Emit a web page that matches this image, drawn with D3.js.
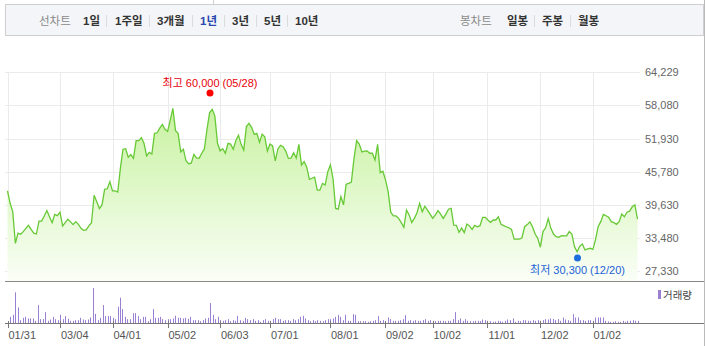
<!DOCTYPE html>
<html>
<head>
<meta charset="utf-8">
<script src="https://cdn.jsdelivr.net/npm/d3@7"></script>
<style>
  body { margin: 0; background: #fff; }
  svg text { font-family: "Liberation Sans", Arial, "Noto Sans CJK KR", sans-serif; }
</style>
</head>
<body>
<div id="chart"></div>
<script>
// closing prices (line)
var prices = [
  42200, 39900, 38350, 32450, 34350, 34150, 34650, 35250, 35800, 35050,
  34350, 34200, 36600, 36600, 37550, 38550, 37400, 36300, 37850, 37600,
  38250, 35700, 36300, 36950, 36450, 35950, 36500, 36000, 35250, 34900,
  34950, 35700, 36300, 41400, 40200, 38900, 39600, 42500, 42600, 43900,
  42200, 42200, 42000, 46400, 49950, 50050, 48450, 48950, 48250, 51550,
  51550, 52100, 51050, 48700, 49350, 49050, 52900, 53000, 53850, 54550,
  53650, 53250,
  55350, 57550, 53400, 52900, 49450, 49950, 47800, 47250, 47350, 49000,
  48350, 48250, 49200, 50000, 53650, 56750, 57350, 56100, 51050, 49650,
  50050, 49200, 51050, 50900, 49950, 51550, 52550, 50850, 49800, 54150,
  54750, 54000, 52700, 52900, 51250, 52750, 52250, 49600, 50900, 50550,
  47800, 50000, 50650, 50400, 49600, 48250, 48300, 49300, 48300, 50850,
  47000, 47650, 46600, 44350, 44550, 44750, 42350, 42350,
  43600, 43300, 45750, 47050, 44550, 38950, 38800, 41150, 39600, 43450,
  43600, 43850, 48250, 51550, 50900, 49450, 49600, 49650, 49200, 49200,
  47950, 50850, 45600, 45850, 44250, 42050, 38250, 37550, 37550, 37100,
  36300, 35450, 38650, 37750, 36350, 37100, 38150, 39900, 38350, 39350,
  38650, 37900, 37100, 37750, 38550, 37900, 37100, 37900, 38800, 38950,
  35850, 35800, 34500, 35300, 34450, 36050, 35700, 35050, 35800, 35550,
  35750, 37300, 37300, 36800,
  36350, 36800, 36800, 37400, 36000, 35750, 35550, 35350, 35050, 33250,
  33250, 33250, 33500, 35550, 35950, 36450, 35550, 34200, 33400, 31750,
  34650, 35350, 37050, 35250, 34200, 33700, 33600, 33900, 33850, 33850,
  34650, 34200, 31850, 30900, 31950, 32350, 31250, 31450, 31550, 31350,
  33100, 35550, 36500, 37850, 37600, 37300, 36500, 36300, 36000, 36500,
  37900, 37400, 38250, 38450, 39250, 39600, 36950
];

// daily volume, thousand shares
var volumes = [
  70, 200, 260, 930, 480, 100, 170, 200, 150, 150, 150, 80, 550, 130, 130, 340, 80, 120, 200, 130,
  100, 260, 130, 220, 140, 80, 80, 100, 100, 170, 120, 100, 120, 180, 1060, 290, 100, 170, 550, 220,
  220, 220, 170, 130, 500, 770, 430, 200, 130, 130, 310, 310, 220, 130, 200, 200, 70, 130, 430, 170,
  170, 200, 130, 100, 130, 130, 150, 230, 170, 170, 150, 170, 140, 200, 100, 100, 100, 70, 100, 150,
  170, 610, 260, 130, 200, 100, 80, 100, 130, 70, 100, 80, 230, 100, 80, 170, 130, 100, 130, 80,
  100, 50, 100, 130, 80, 80, 130, 170, 130, 130, 80, 100, 100, 80, 130, 100, 130, 200, 230, 150,
  100, 70, 100, 70, 100, 80, 70, 100, 130, 130, 150, 200, 260, 200, 100, 260, 80, 80,
  280, 260, 70, 70, 70, 70, 50, 70, 80, 100, 220, 80, 100, 70, 180, 130, 80, 80, 80, 100,
  130, 250, 80, 100, 80, 100, 80, 80, 100, 130, 80, 100, 80, 70, 80, 80, 80, 70, 80, 80,
  130, 340, 100, 150, 80, 130, 80, 70, 70, 80, 80, 70, 120, 100, 80, 70, 50, 60, 80, 70,
  50, 80, 120, 100, 150, 50, 80, 70, 100, 100, 80, 80, 100, 80, 100, 80, 100, 130, 120, 150,
  140, 100, 130, 80, 180, 120, 100, 80, 280, 180, 180, 100, 100, 80, 100, 100, 80, 180, 180, 180,
  180, 80, 60, 50, 50, 70, 50, 50, 80, 50, 80, 80, 100, 80, 80
];

// x axis labels and the volume-bar index they sit on
var tickLabels = ["01/31", "03/04", "04/01", "05/02", "06/03", "07/01", "08/01", "09/02", "10/02", "11/01", "12/02", "01/02"];
var tickIdx = [0, 21, 42, 64, 85, 105, 129, 151, 170, 192, 213, 234];

// y axis ticks
var yTicks = [27330, 33480, 39630, 45780, 51930, 58080, 64229];

// high / low markers
var highMark = { idx: 81, value: 60000, label: "최고 60,000 (05/28)" };
var lowMark = { idx: 228, value: 30300, label: "최저 30,300 (12/20)" };

// toolbar
var leftTabs = ["1일", "1주일", "3개월", "1년", "3년", "5년", "10년"];
var rightTabs = ["일봉", "주봉", "월봉"];

var width = 708, height = 346;

var svg = d3.select("#chart").append("svg")
  .attr("width", width)
  .attr("height", height);

// ---- toolbar ----
svg.append("rect")
  .attr("x", 5.5).attr("y", 4.5)
  .attr("width", 698).attr("height", 31)
  .attr("fill", "#f4f5f8")
  .attr("stroke", "#cfcfcf");

svg.append("line")
  .attr("x1", 213.5).attr("x2", 213.5).attr("y1", 0).attr("y2", 4)
  .attr("stroke", "#cfcfcf");

svg.append("text")
  .attr("x", 39).attr("y", 25)
  .attr("font-size", "11.5px")
  .attr("fill", "#8a8a8a")
  .text("선차트");

var leftX = [83, 115, 157, 200, 232, 264, 295];
var sepLeft = [106.5, 149.5, 192.5, 224.5, 256.5, 287.5];
leftTabs.forEach(function(t, i) {
  svg.append("text")
    .attr("x", leftX[i]).attr("y", 25)
    .attr("font-size", "11.5px")
    .attr("font-weight", "bold")
    .attr("fill", t == "1년" ? "#2a48b0" : "#333")
    .text(t);
});
sepLeft.concat([534.5, 570.5]).forEach(function(x) {
  svg.append("line")
    .attr("x1", x).attr("x2", x).attr("y1", 15).attr("y2", 27)
    .attr("stroke", "#dcdcdc");
});

svg.append("text")
  .attr("x", 460).attr("y", 25)
  .attr("font-size", "11.5px")
  .attr("fill", "#8a8a8a")
  .text("봉차트");

var rightX = [507, 542, 578];
rightTabs.forEach(function(t, i) {
  svg.append("text")
    .attr("x", rightX[i]).attr("y", 25)
    .attr("font-size", "11.5px")
    .attr("font-weight", "bold")
    .attr("fill", "#333")
    .text(t);
});

// ---- scales ----
// both series cover the same period, first to last trading day
var xScale = d3.scaleLinear()
  .domain([0, volumes.length - 1])
  .range([7.5, 637.5]);

var xPrice = d3.scaleLinear()
  .domain([0, prices.length - 1])
  .range([7.5, 637.5]);

var yScale = d3.scaleLinear()
  .domain([yTicks[0], yTicks[yTicks.length - 1]])
  .range([271, 72.3]);

var yVol = d3.scaleLinear()
  .domain([0, d3.max(volumes)])
  .range([323.5, 288]);

// ---- grid ----
svg.append("g").selectAll("line")
  .data(yTicks).enter()
  .append("line")
  .attr("x1", 5).attr("x2", 640)
  .attr("y1", function(d) { return Math.round(yScale(d)) + 0.5; })
  .attr("y2", function(d) { return Math.round(yScale(d)) + 0.5; })
  .attr("stroke", "#ebebeb");

svg.append("g").selectAll("line")
  .data(tickIdx).enter()
  .append("line")
  .attr("x1", function(d) { return Math.round(xScale(d)) + 0.5; })
  .attr("x2", function(d) { return Math.round(xScale(d)) + 0.5; })
  .attr("y1", 72).attr("y2", 281)
  .attr("stroke", "#ebebeb");

// ---- area + line ----
var defs = svg.append("defs");
var grad = defs.append("linearGradient")
  .attr("id", "areaGrad")
  .attr("gradientUnits", "userSpaceOnUse")
  .attr("x1", 0).attr("x2", 0).attr("y1", 90).attr("y2", 281);
grad.append("stop").attr("offset", "0%").attr("stop-color", "#c3f198");
grad.append("stop").attr("offset", "100%").attr("stop-color", "#fafef7");

var area = d3.area()
  .x(function(d, i) { return xPrice(i); })
  .y0(281)
  .y1(function(d) { return yScale(d); });

var line = d3.line()
  .x(function(d, i) { return xPrice(i); })
  .y(function(d) { return yScale(d); });

svg.append("path")
  .datum(prices)
  .attr("d", area)
  .attr("fill", "url(#areaGrad)");

svg.append("path")
  .datum(prices)
  .attr("d", line)
  .attr("fill", "none")
  .attr("stroke", "#67c936")
  .attr("stroke-width", 1.3);

// ---- y labels ----
svg.append("g").selectAll("text")
  .data(yTicks).enter()
  .append("text")
  .attr("x", 645)
  .attr("y", function(d) { return yScale(d) + 4; })
  .attr("font-size", "11px")
  .attr("fill", "#666")
  .text(function(d) { return d3.format(",")(d); });

// ---- high / low ----
svg.append("circle")
  .attr("cx", xScale(highMark.idx))
  .attr("cy", yScale(highMark.value) - 2)
  .attr("r", 3.5)
  .attr("fill", "#f00");
svg.append("text")
  .attr("x", xScale(highMark.idx))
  .attr("y", yScale(highMark.value) - 8)
  .attr("text-anchor", "middle")
  .attr("font-size", "11px")
  .attr("fill", "#e8000b")
  .text(highMark.label);

svg.append("circle")
  .attr("cx", xScale(lowMark.idx))
  .attr("cy", yScale(lowMark.value) + 3)
  .attr("r", 3.5)
  .attr("fill", "#1f6ee0");
svg.append("text")
  .attr("x", xScale(lowMark.idx))
  .attr("y", yScale(lowMark.value) + 19)
  .attr("text-anchor", "middle")
  .attr("font-size", "11px")
  .attr("fill", "#1d62d6")
  .text(lowMark.label);

// ---- borders ----
svg.append("line")
  .attr("x1", 5).attr("x2", 704).attr("y1", 281.5).attr("y2", 281.5)
  .attr("stroke", "#888");
svg.append("line")
  .attr("x1", 704.5).attr("x2", 704.5).attr("y1", 0).attr("y2", 346)
  .attr("stroke", "#bbb");

// ---- volume ----
svg.append("g").selectAll("rect")
  .data(volumes).enter()
  .append("rect")
  .attr("x", function(d, i) { return Math.round(xScale(i)); })
  .attr("y", function(d) { return yVol(d); })
  .attr("width", 1)
  .attr("height", function(d) { return 323.5 - yVol(d); })
  .attr("fill", "#9a80d2");

svg.append("line")
  .attr("x1", 5).attr("x2", 704).attr("y1", 323.5).attr("y2", 323.5)
  .attr("stroke", "#777");

svg.append("g").selectAll("line")
  .data(tickIdx).enter()
  .append("line")
  .attr("x1", function(d) { return Math.round(xScale(d)) + 0.5; })
  .attr("x2", function(d) { return Math.round(xScale(d)) + 0.5; })
  .attr("y1", 321).attr("y2", 328)
  .attr("stroke", "#777");

svg.append("g").selectAll("text")
  .data(tickIdx).enter()
  .append("text")
  .attr("x", function(d) { return xScale(d) + 1; })
  .attr("y", 339)
  .attr("font-size", "11px")
  .attr("fill", "#555")
  .text(function(d, i) { return tickLabels[i]; });

// legend
svg.append("rect")
  .attr("x", 658).attr("y", 290).attr("width", 3).attr("height", 9)
  .attr("fill", "#9a80d2");
svg.append("text")
  .attr("x", 663).attr("y", 298.5)
  .attr("font-size", "10.5px")
  .attr("fill", "#444")
  .text("거래량");
</script>
</body>
</html>
